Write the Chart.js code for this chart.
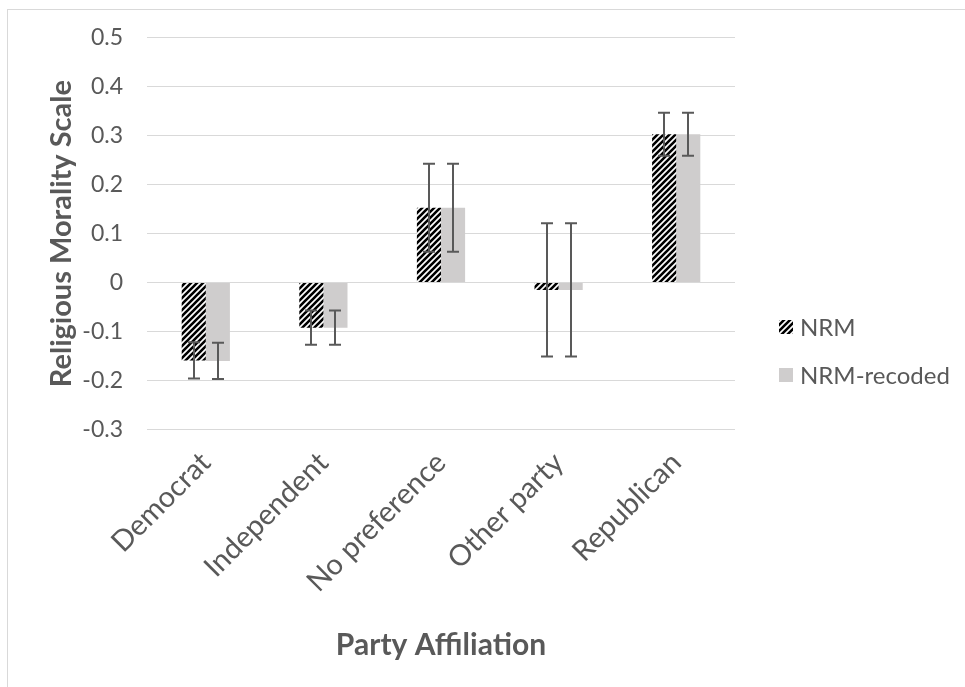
<!DOCTYPE html>
<html>
<head>
<meta charset="utf-8">
<script src="https://cdn.jsdelivr.net/npm/chart.js@4/dist/chart.umd.min.js"></script>
<style>
  html, body { margin: 0; padding: 0; background: #fff; overflow: hidden; }
  #wrap { position: relative; width: 965px; height: 687px; }
  #frame { position: absolute; left: 7px; top: 9px; width: 1000px; height: 800px; border: 1px solid #d9d9d9; }
  canvas { position: absolute; left: 0; top: 0; }
</style>
</head>
<body>
<div id="wrap">
  <div id="frame"></div>
  <canvas id="chartCanvas" width="965" height="687"></canvas>
</div>
<script>
const categories = ["Democrat", "Independent", "No preference", "Other party", "Republican"];
const nrmValues = [-0.159, -0.092, 0.153, -0.015, 0.303];
const nrmErrors = [0.037, 0.035, 0.090, 0.136, 0.044];
const recodedValues = [-0.160, -0.092, 0.153, -0.015, 0.303];
const recodedErrors = [0.037, 0.035, 0.090, 0.136, 0.044];
const seriesNames = ["NRM", "NRM-recoded"];

const textGrey = "#595959";
const fontName = "Lato, 'Open Sans', sans-serif";

function makeHatch() {
    const c = document.createElement("canvas");
    c.width = 6;
    c.height = 6;
    const g = c.getContext("2d");
    g.fillStyle = "#ffffff";
    g.fillRect(0, 0, 6, 6);
    g.strokeStyle = "#000000";
    g.lineWidth = 2.6;
    g.beginPath();
    g.moveTo(-1, 7); g.lineTo(7, -1);
    g.moveTo(-4, 4); g.lineTo(4, -4);
    g.moveTo(2, 10); g.lineTo(10, 2);
    g.stroke();
    return g.createPattern(c, "repeat");
}

const hatch = makeHatch();

// error bars drawn at each bar's x, using the y scale
const errorBars = {
    id: "errorBars",
    afterDatasetsDraw(chart) {
        const ctx = chart.ctx;
        const y = chart.scales.y;
        ctx.save();
        ctx.strokeStyle = textGrey;
        ctx.lineWidth = 2;
        chart.data.datasets.forEach((ds, di) => {
            const meta = chart.getDatasetMeta(di);
            meta.data.forEach((bar, i) => {
                const v = ds.data[i];
                const e = ds.errors[i];
                const top = y.getPixelForValue(v + e);
                const bot = y.getPixelForValue(v - e);
                const x = Math.round(bar.x);
                ctx.beginPath();
                ctx.moveTo(x, top); ctx.lineTo(x, bot);
                ctx.moveTo(x - 6, top); ctx.lineTo(x + 6, top);
                ctx.moveTo(x - 6, bot); ctx.lineTo(x + 6, bot);
                ctx.stroke();
            });
        });
        ctx.restore();
    }
};

const sideLegend = {
    id: "sideLegend",
    afterDraw(chart) {
        const ctx = chart.ctx;
        const left = chart.chartArea.right + 44;
        const rows = [327, 375];
        ctx.save();
        ctx.font = "24px " + fontName;
        ctx.textBaseline = "middle";
        chart.data.datasets.forEach((ds, i) => {
            ctx.fillStyle = ds.backgroundColor;
            ctx.fillRect(left, rows[i] - 7, 14, 14);
            ctx.fillStyle = textGrey;
            ctx.fillText(ds.label, left + 21, rows[i] + 1);
        });
        ctx.restore();
    }
};

new Chart(document.getElementById("chartCanvas"), {
    type: "bar",
    data: {
        labels: categories,
        datasets: [
            {
                label: seriesNames[0],
                data: nrmValues,
                errors: nrmErrors,
                backgroundColor: hatch,
                categoryPercentage: 0.41,
                barPercentage: 1
            },
            {
                label: seriesNames[1],
                data: recodedValues,
                errors: recodedErrors,
                backgroundColor: "#cfcdcd",
                categoryPercentage: 0.41,
                barPercentage: 1
            }
        ]
    },
    options: {
        responsive: false,
        animation: false,
        layout: {
            padding: { left: 44, right: 230, top: 36, bottom: 24 }
        },
        plugins: {
            legend: { display: false },
            tooltip: { enabled: false }
        },
        scales: {
            x: {
                grid: { display: false },
                border: { display: false },
                afterFit: scale => {
                    scale.paddingLeft = 0;
                    scale.paddingRight = 0;
                },
                ticks: {
                    color: textGrey,
                    font: { family: fontName, size: 29 },
                    minRotation: 45,
                    maxRotation: 45,
                    padding: 8
                },
                title: {
                    display: true,
                    text: "Party Affiliation",
                    color: textGrey,
                    font: { family: fontName, size: 30, weight: "bold" },
                    padding: { top: 20, bottom: 0 }
                }
            },
            y: {
                min: -0.3,
                max: 0.5,
                grid: { color: "#d9d9d9", lineWidth: 1, drawTicks: false },
                border: { display: false },
                afterFit: scale => {
                    scale.width = 103;
                },
                ticks: {
                    stepSize: 0.1,
                    color: textGrey,
                    font: { family: fontName, size: 23 },
                    padding: 24,
                    callback: v => String(Math.round(v * 10) / 10)
                },
                title: {
                    display: true,
                    text: "Religious Morality Scale",
                    color: textGrey,
                    font: { family: fontName, size: 29, weight: "bold" },
                    padding: { top: 0, bottom: 8 }
                }
            }
        }
    },
    plugins: [errorBars, sideLegend]
});
</script>
</body>
</html>
